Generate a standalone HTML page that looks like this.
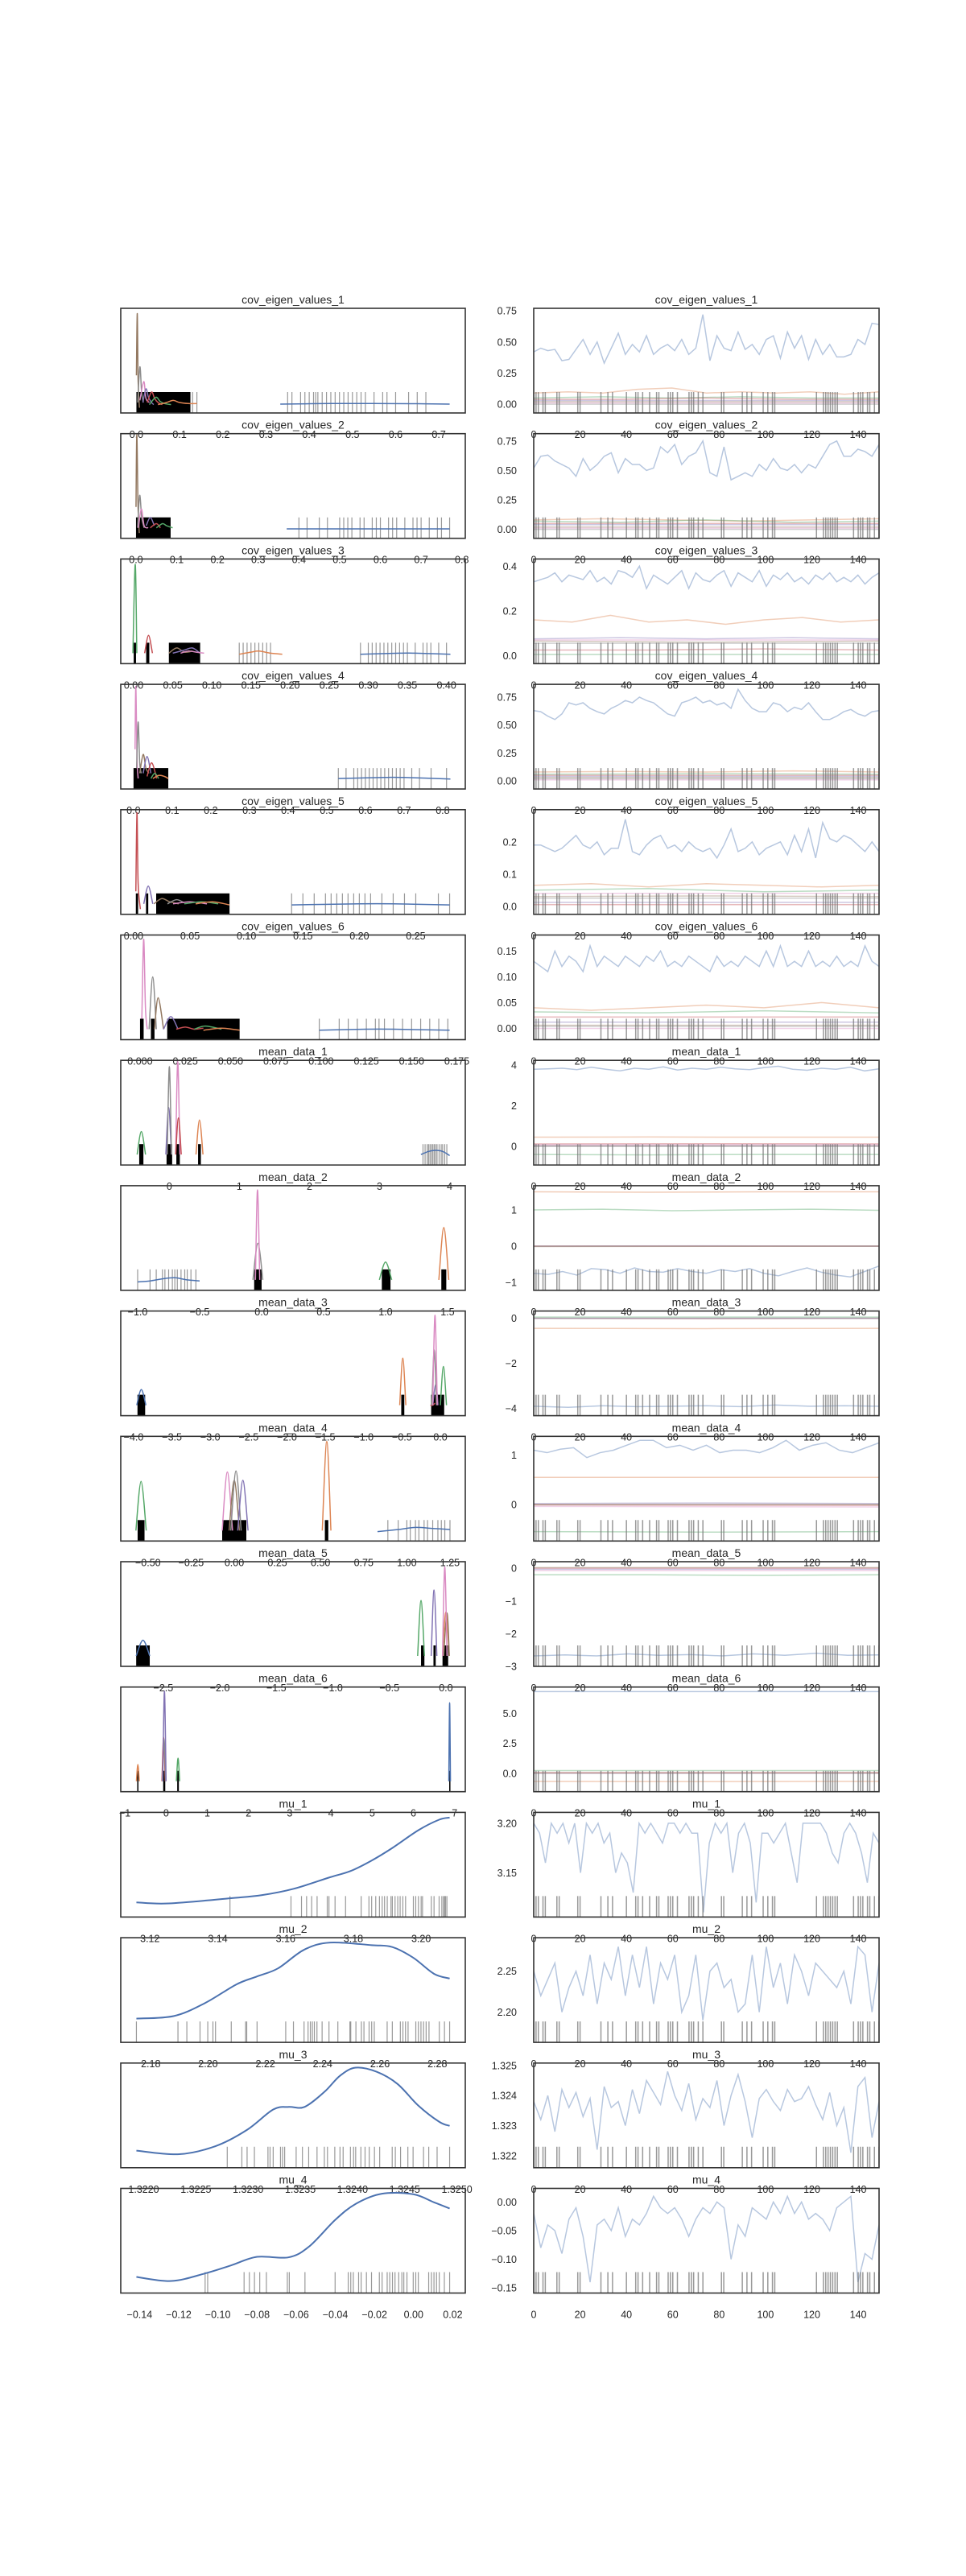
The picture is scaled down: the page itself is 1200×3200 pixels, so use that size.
<!DOCTYPE html>
<html><head><meta charset="utf-8"><title>Trace plot</title>
<style>
html,body{margin:0;padding:0;background:#fff;}
svg{display:block;font-family:"Liberation Sans",sans-serif;}
</style></head>
<body>
<svg id="chart" width="1200" height="3200" viewBox="0 0 1200 3200" xmlns="http://www.w3.org/2000/svg"></svg>
<script>
const B='#4C72B0',O='#DD8452',G='#55A868',R='#C44E52',P='#8172B3',Br='#937860',Pk='#DA8BC3',Gy='#8C8C8C';

const titles=['cov_eigen_values_1','cov_eigen_values_2','cov_eigen_values_3','cov_eigen_values_4','cov_eigen_values_5','cov_eigen_values_6','mean_data_1','mean_data_2','mean_data_3','mean_data_4','mean_data_5','mean_data_6','mu_1','mu_2','mu_3','mu_4'];

const kdeRange=[[0,0.725],[0.001,0.77],[0.0035,0.404],[0.0075,0.818],[0.0025,0.28],[-0.002,0.171],[-0.47,4.0],[-1.01,1.517],[-3.964,0.121],[-0.567,1.248],[-2.738,0.033],[-0.72,6.88],[3.116,3.2084],[2.175,2.2843],[1.32193,1.32493],[-0.1416,0.0184]];

const kdeTickLabels=[
['0.0','0.1','0.2','0.3','0.4','0.5','0.6','0.7'],
['0.0','0.1','0.2','0.3','0.4','0.5','0.6','0.7','0.8'],
['0.00','0.05','0.10','0.15','0.20','0.25','0.30','0.35','0.40'],
['0.0','0.1','0.2','0.3','0.4','0.5','0.6','0.7','0.8'],
['0.00','0.05','0.10','0.15','0.20','0.25'],
['0.000','0.025','0.050','0.075','0.100','0.125','0.150','0.175'],
['0','1','2','3','4'],
['−1.0','−0.5','0.0','0.5','1.0','1.5'],
['−4.0','−3.5','−3.0','−2.5','−2.0','−1.5','−1.0','−0.5','0.0'],
['−0.50','−0.25','0.00','0.25','0.50','0.75','1.00','1.25'],
['−2.5','−2.0','−1.5','−1.0','−0.5','0.0'],
['−1','0','1','2','3','4','5','6','7'],
['3.12','3.14','3.16','3.18','3.20'],
['2.18','2.20','2.22','2.24','2.26','2.28'],
['1.3220','1.3225','1.3230','1.3235','1.3240','1.3245','1.3250'],
['−0.14','−0.12','−0.10','−0.08','−0.06','−0.04','−0.02','0.00','0.02']];

const kdeSeries=[
[[Br,[0,0.002,0.004,0.007],[0.36,0.95,0.3,0.05]],[Gy,[0.003,0.008,0.012,0.016],[0.1,0.44,0.2,0.1]],[Pk,[0.008,0.017,0.022,0.03],[0.12,0.30,0.14,0.1]],[P,[0.015,0.022,0.028,0.035,0.04],[0.1,0.23,0.15,0.1,0.08]],[R,[0.025,0.035,0.042,0.05,0.06],[0.1,0.2,0.14,0.1,0.08]],[G,[0.03,0.045,0.055,0.065,0.08],[0.08,0.15,0.11,0.09,0.08]],[O,[0.05,0.07,0.085,0.1,0.12,0.14],[0.08,0.1,0.12,0.1,0.09,0.09]],[B,[0.333,0.45,0.55,0.65,0.725],[0.085,0.09,0.09,0.088,0.085]]],
[[Br,[0,0.002,0.005,0.008],[0.3,0.99,0.3,0.05]],[Gy,[0.004,0.009,0.014,0.02],[0.1,0.41,0.2,0.1]],[Pk,[0.006,0.013,0.02,0.03],[0.1,0.28,0.12,0.1]],[P,[0.025,0.035,0.045],[0.12,0.2,0.12]],[R,[0.035,0.05,0.06],[0.1,0.14,0.1]],[G,[0.05,0.065,0.075,0.09],[0.1,0.14,0.12,0.1]],[B,[0.37,0.5,0.6,0.77],[0.09,0.09,0.09,0.09]]],
[[G,[-0.001,0.002,0.004],[0.1,0.95,0.1]],[R,[0.014,0.019,0.024],[0.1,0.27,0.1]],[Br,[0.045,0.055,0.065,0.075],[0.1,0.15,0.11,0.12]],[P,[0.05,0.065,0.075,0.085],[0.1,0.13,0.15,0.1]],[Pk,[0.06,0.07,0.08,0.09],[0.1,0.12,0.11,0.1]],[O,[0.135,0.15,0.16,0.175,0.19],[0.09,0.11,0.12,0.1,0.09]],[B,[0.29,0.34,0.36,0.405],[0.09,0.1,0.1,0.09]]],
[[Pk,[0.004,0.006,0.009,0.012],[0.38,0.98,0.3,0.1]],[Gy,[0.008,0.012,0.016,0.02],[0.2,0.64,0.25,0.15]],[Br,[0.016,0.025,0.032,0.04],[0.15,0.33,0.2,0.15]],[P,[0.025,0.035,0.045],[0.15,0.31,0.15]],[R,[0.035,0.047,0.06],[0.12,0.25,0.1]],[G,[0.045,0.055,0.065],[0.1,0.15,0.1]],[O,[0.05,0.065,0.08,0.09],[0.1,0.13,0.12,0.1]],[B,[0.53,0.65,0.7,0.82],[0.1,0.11,0.11,0.095]]],
[[R,[0.002,0.003,0.004,0.006],[0.22,0.97,0.3,0.05]],[P,[0.009,0.013,0.017],[0.1,0.27,0.1]],[Br,[0.018,0.025,0.032,0.04],[0.1,0.15,0.12,0.1]],[Gy,[0.03,0.038,0.045],[0.1,0.14,0.11]],[Pk,[0.035,0.05,0.065],[0.1,0.12,0.1]],[G,[0.045,0.06,0.075],[0.1,0.12,0.1]],[O,[0.055,0.07,0.085],[0.1,0.12,0.09]],[B,[0.14,0.2,0.23,0.28],[0.09,0.1,0.1,0.09]]],
[[Pk,[0.001,0.002,0.003,0.004],[0.2,0.96,0.3,0.1]],[Gy,[0.005,0.007,0.009],[0.1,0.6,0.1]],[Br,[0.008,0.01,0.013],[0.1,0.4,0.1]],[P,[0.013,0.017,0.021],[0.1,0.22,0.1]],[R,[0.02,0.025,0.03,0.035],[0.1,0.12,0.1,0.11]],[G,[0.03,0.036,0.045],[0.1,0.13,0.1]],[O,[0.035,0.045,0.055],[0.09,0.11,0.09]],[B,[0.099,0.125,0.14,0.171],[0.09,0.1,0.1,0.09]]],
[[G,[-0.46,-0.4,-0.34],[0.1,0.32,0.1]],[P,[-0.05,-0.01,0.03],[0.1,0.55,0.1]],[Gy,[-0.03,0.0,0.03],[0.1,0.94,0.1]],[Pk,[0.09,0.12,0.15],[0.1,0.99,0.1]],[R,[0.09,0.13,0.17],[0.1,0.45,0.1]],[O,[0.38,0.43,0.48],[0.1,0.43,0.1]],[B,[3.59,3.7,3.8,3.9,4.0],[0.1,0.13,0.14,0.13,0.09]]],
[[B,[-1.0,-0.9,-0.8,-0.7,-0.6,-0.5],[0.08,0.09,0.11,0.12,0.1,0.09]],[Gy,[-0.07,-0.03,0.01],[0.1,0.45,0.1]],[Pk,[-0.05,-0.033,-0.015],[0.1,0.96,0.1]],[G,[0.95,1.0,1.05],[0.1,0.27,0.1]],[O,[1.43,1.47,1.51],[0.1,0.6,0.1]]],
[[B,[-3.96,-3.9,-3.84],[0.1,0.25,0.1]],[O,[-0.53,-0.49,-0.45],[0.1,0.55,0.1]],[R,[-0.13,-0.1,-0.07],[0.1,0.1,0.12]],[P,[-0.1,-0.06,-0.03],[0.1,0.3,0.1]],[Gy,[-0.11,-0.08,-0.05],[0.1,0.63,0.1]],[Pk,[-0.1,-0.07,-0.04],[0.1,0.96,0.1]],[G,[0.0,0.04,0.08],[0.1,0.47,0.1]]],
[[G,[-0.57,-0.54,-0.51],[0.1,0.57,0.1]],[Pk,[-0.07,-0.04,-0.01],[0.1,0.66,0.1]],[Br,[-0.03,0.0,0.03],[0.1,0.58,0.1]],[Gy,[-0.02,0.01,0.04],[0.1,0.67,0.1]],[P,[0.02,0.05,0.08],[0.1,0.58,0.1]],[O,[0.51,0.536,0.56],[0.1,0.95,0.1]],[B,[0.83,0.95,1.05,1.15,1.25],[0.09,0.11,0.13,0.12,0.11]]],
[[B,[-2.74,-2.68,-2.62],[0.1,0.25,0.1]],[G,[-0.25,-0.22,-0.19],[0.1,0.63,0.1]],[P,[-0.13,-0.105,-0.08],[0.1,0.73,0.1]],[O,[-0.03,0.0,0.03],[0.1,0.52,0.1]],[Br,[-0.02,0.01,0.03],[0.1,0.51,0.1]],[Pk,[-0.03,-0.01,0.01],[0.1,0.95,0.1]]],
[[O,[-0.72,-0.685,-0.65],[0.1,0.26,0.1]],[R,[-0.1,-0.06,-0.02],[0.1,0.52,0.1]],[Gy,[-0.09,-0.05,-0.01],[0.1,0.5,0.1]],[P,[-0.08,-0.04,0.0],[0.1,0.96,0.1]],[G,[0.25,0.29,0.33],[0.1,0.32,0.1]],[B,[6.86,6.88,6.9],[0.1,0.85,0.1]]],
[[B,[3.116,3.1255,3.1439,3.1531,3.1624,3.1731,3.1792,3.1854,3.1915,3.1992,3.2053,3.2084],[0.14,0.13,0.18,0.21,0.27,0.38,0.44,0.54,0.66,0.83,0.93,0.95]]],
[[B,[2.175,2.1881,2.1989,2.2099,2.2171,2.2244,2.2335,2.2426,2.2571,2.2643,2.2716,2.2788,2.2843],[0.227,0.252,0.375,0.554,0.630,0.707,0.885,0.954,0.929,0.911,0.809,0.656,0.610]]],
[[B,[1.32193,1.32234,1.32269,1.32299,1.32324,1.32339,1.32354,1.32373,1.32388,1.32403,1.32423,1.32443,1.32463,1.32483,1.32493],[0.163,0.129,0.207,0.362,0.556,0.581,0.581,0.724,0.879,0.956,0.917,0.801,0.594,0.439,0.400]]],
[[B,[-0.1416,-0.1238,-0.1066,-0.0933,-0.0800,-0.0640,-0.0534,-0.0400,-0.0294,-0.0162,-0.0002,0.0104,0.0184],[0.154,0.115,0.187,0.264,0.346,0.341,0.444,0.700,0.854,0.949,0.944,0.867,0.808]]]];

const kdeRugBlocks=[
[[0,0.125]],[[0,0.085]],[[0,0.003],[0.016,0.02],[0.045,0.085]],[[0,0.09]],[[0.002,0.004],[0.011,0.013],[0.02,0.085]],[[0,0.002],[0.006,0.008],[0.015,0.055]],
[[-0.43,-0.37],[-0.04,0.04],[0.1,0.15],[0.41,0.45]],[[-0.06,0.0],[0.97,1.04],[1.45,1.49]],[[-3.95,-3.85],[-0.51,-0.47],[-0.12,0.05]],[[-0.56,-0.52],[-0.07,0.07],[0.525,0.545]],[[-2.74,-2.62],[-0.22,-0.19],[-0.11,-0.09],[-0.03,0.02]],[[-0.7,-0.67],[-0.07,-0.02],[0.27,0.31],[6.87,6.89]],
[],[],[],[]];

const kdeRug=[
[0.13,0.14,0.35,0.36,0.38,0.39,0.40,0.41,0.415,0.42,0.43,0.44,0.45,0.46,0.47,0.48,0.49,0.50,0.51,0.52,0.53,0.55,0.57,0.58,0.60,0.63,0.65,0.67],
[0.40,0.42,0.45,0.47,0.50,0.51,0.52,0.53,0.55,0.56,0.58,0.59,0.60,0.62,0.63,0.64,0.66,0.68,0.69,0.70,0.72,0.74,0.75,0.77],
[0.135,0.14,0.145,0.15,0.155,0.16,0.165,0.17,0.175,0.29,0.30,0.305,0.31,0.315,0.32,0.325,0.33,0.335,0.34,0.345,0.35,0.36,0.37,0.375,0.38,0.39,0.40],
[0.53,0.55,0.57,0.58,0.59,0.60,0.61,0.62,0.63,0.64,0.65,0.66,0.67,0.68,0.69,0.70,0.72,0.74,0.77,0.81],
[0.14,0.15,0.16,0.17,0.175,0.18,0.185,0.19,0.195,0.2,0.205,0.21,0.22,0.23,0.24,0.25,0.27,0.28],
[0.099,0.11,0.115,0.12,0.125,0.13,0.132,0.135,0.14,0.145,0.15,0.155,0.16,0.165,0.17],
[3.62,3.65,3.68,3.7,3.72,3.74,3.76,3.78,3.8,3.82,3.85,3.88,3.9,3.93,3.96],
[-1.0,-0.9,-0.85,-0.8,-0.78,-0.75,-0.72,-0.7,-0.68,-0.65,-0.62,-0.6,-0.57,-0.53],
[],
[0.89,0.95,1.0,1.02,1.05,1.07,1.1,1.12,1.15,1.18,1.2,1.22,1.25],
[],[],
[3.1436,3.1616,3.1647,3.1662,3.1677,3.1693,3.1723,3.1728,3.1746,3.1777,3.1823,3.1846,3.1854,3.1866,3.1877,3.1885,3.1892,3.19,3.1911,3.1915,3.1923,3.1931,3.1938,3.1946,3.1954,3.1977,3.1984,3.1992,3.2,3.2004,3.203,3.2038,3.2053,3.2061,3.2066,3.2069,3.2072,3.2076],
[2.175,2.1895,2.1926,2.1972,2.1999,2.2017,2.2026,2.2081,2.2131,2.2135,2.2171,2.2271,2.2298,2.2335,2.2349,2.2357,2.2364,2.2371,2.238,2.2398,2.2422,2.2453,2.2495,2.2498,2.2516,2.2535,2.2544,2.2562,2.2571,2.258,2.2625,2.2643,2.2671,2.268,2.2689,2.2698,2.2725,2.2734,2.2743,2.2752,2.2761,2.2771,2.2807,2.2825,2.2843],
[1.3228,1.32294,1.32299,1.32306,1.32319,1.32321,1.32324,1.32331,1.32333,1.32335,1.32346,1.32352,1.32358,1.32366,1.32373,1.32376,1.32383,1.32388,1.32391,1.32398,1.32401,1.32403,1.32408,1.32412,1.32416,1.32421,1.32426,1.32438,1.32441,1.32446,1.32453,1.32458,1.32468,1.32473,1.32481,1.32493],
[-0.1065,-0.1052,-0.0866,-0.0839,-0.0813,-0.0786,-0.0752,-0.0645,-0.0635,-0.0555,-0.0401,-0.0334,-0.0321,-0.0308,-0.0281,-0.0268,-0.0241,-0.0215,-0.0175,-0.0161,-0.0135,-0.0122,-0.0108,-0.0095,-0.0076,-0.006,-0.005,-0.0034,-0.0002,0.0011,0.0024,0.0077,0.0091,0.0104,0.0117,0.0131,0.0157,0.0184]];

const traceYDomain=[[-0.07,0.77],[-0.076,0.812],[-0.036,0.432],[-0.072,0.865],[-0.025,0.3],[-0.0219,0.181],[-0.92,4.24],[-1.22,1.67],[-4.32,0.32],[-0.74,1.38],[-3.0,0.2],[-1.55,7.23],[3.1053,3.211],[2.163,2.291],[1.3216,1.32508],[-0.159,0.0238]];

const traceYTickLabels=[
['0.00','0.25','0.50','0.75'],['0.00','0.25','0.50','0.75'],['0.0','0.2','0.4'],['0.00','0.25','0.50','0.75'],['0.0','0.1','0.2'],['0.00','0.05','0.10','0.15'],
['0','2','4'],['−1','0','1'],['−4','−2','0'],['0','1'],['−3','−2','−1','0'],['0.0','2.5','5.0'],
['3.15','3.20'],['2.20','2.25'],['1.322','1.323','1.324','1.325'],['−0.15','−0.10','−0.05','0.00']];

const iterTicks=[0,20,40,60,80,100,120,140];
const divergences=[0,1,2,4,5,10,11,19,20,29,32,34,40,44,45,47,50,53,54,58,59,60,62,67,68,69,71,73,81,82,90,92,94,99,101,103,104,122,125,126,127,128,129,130,131,138,140,141,142,144,145,147,149];

const traceSeries=[
[[O,[0.09,0.10,0.09,0.12,0.13,0.09,0.10,0.09,0.10,0.08,0.10]],[G,[0.05,0.06,0.05,0.06,0.05,0.05]],[R,[0.04,0.04,0.05,0.04,0.04]],[P,[0.03,0.03,0.03,0.03]],[Br,[0.02,0.02,0.02]],[Pk,[0.01,0.01]],[Gy,[0.0,0.0]],
 [B,[0.42,0.45,0.43,0.44,0.35,0.36,0.44,0.52,0.40,0.50,0.33,0.45,0.57,0.40,0.48,0.42,0.55,0.40,0.45,0.48,0.43,0.52,0.40,0.45,0.72,0.35,0.55,0.45,0.43,0.58,0.44,0.48,0.40,0.52,0.55,0.37,0.58,0.45,0.55,0.36,0.52,0.40,0.48,0.38,0.38,0.40,0.52,0.48,0.65,0.64]]],
[[O,[0.08,0.09,0.08,0.07,0.08,0.09]],[G,[0.07,0.06,0.08,0.06,0.07]],[R,[0.05,0.05,0.05]],[P,[0.04,0.04]],[Br,[0.02,0.02]],[Pk,[0.01,0.01]],[Gy,[0.0,0.0]],
 [B,[0.52,0.62,0.63,0.58,0.55,0.52,0.45,0.60,0.50,0.55,0.62,0.65,0.48,0.60,0.55,0.55,0.50,0.52,0.70,0.65,0.72,0.55,0.62,0.65,0.75,0.48,0.45,0.70,0.42,0.45,0.48,0.45,0.55,0.50,0.60,0.52,0.50,0.55,0.48,0.55,0.52,0.62,0.72,0.75,0.62,0.62,0.68,0.66,0.62,0.72]]],
[[O,[0.16,0.15,0.18,0.15,0.16,0.14,0.16,0.17,0.15,0.16]],[P,[0.075,0.08,0.075,0.08,0.075]],[Pk,[0.07,0.07]],[Br,[0.065,0.06,0.065]],[Gy,[0.055,0.055]],[R,[0.025,0.025,0.03,0.025]],[G,[0.005,0.005]],
 [B,[0.33,0.34,0.35,0.37,0.33,0.36,0.35,0.34,0.38,0.33,0.35,0.32,0.38,0.37,0.35,0.40,0.30,0.36,0.34,0.32,0.35,0.38,0.30,0.37,0.34,0.33,0.36,0.38,0.31,0.37,0.35,0.33,0.38,0.31,0.36,0.34,0.37,0.33,0.35,0.32,0.36,0.34,0.37,0.33,0.35,0.33,0.36,0.32,0.35,0.37]]],
[[O,[0.08,0.085,0.08,0.09,0.08]],[G,[0.06,0.065,0.06]],[R,[0.05,0.05]],[P,[0.04,0.04]],[Br,[0.03,0.03]],[Gy,[0.02,0.02]],[Pk,[0.01,0.01]],
 [B,[0.63,0.62,0.58,0.55,0.60,0.70,0.68,0.70,0.65,0.62,0.60,0.65,0.68,0.72,0.70,0.75,0.72,0.70,0.65,0.60,0.58,0.70,0.72,0.75,0.70,0.72,0.68,0.70,0.65,0.82,0.72,0.65,0.62,0.62,0.70,0.68,0.62,0.66,0.64,0.70,0.62,0.55,0.55,0.58,0.62,0.64,0.60,0.58,0.62,0.63]]],
[[O,[0.065,0.07,0.06,0.07,0.065,0.06,0.065]],[G,[0.05,0.055,0.045,0.05]],[Pk,[0.04,0.04]],[Br,[0.03,0.032,0.03]],[Gy,[0.025,0.025]],[P,[0.012,0.012]],[R,[0.005,0.005]],
 [B,[0.19,0.19,0.18,0.17,0.18,0.20,0.22,0.19,0.18,0.20,0.16,0.18,0.18,0.27,0.17,0.16,0.19,0.21,0.22,0.18,0.19,0.17,0.20,0.18,0.17,0.18,0.15,0.19,0.24,0.17,0.18,0.20,0.16,0.18,0.19,0.20,0.16,0.22,0.17,0.24,0.15,0.26,0.21,0.20,0.22,0.21,0.19,0.17,0.20,0.17]]],
[[O,[0.04,0.035,0.04,0.045,0.04,0.05,0.04]],[G,[0.032,0.03,0.034,0.03]],[R,[0.022,0.022]],[P,[0.012,0.012]],[Br,[0.006,0.006]],[Gy,[0.004,0.004]],[Pk,[0.0,0.0]],
 [B,[0.13,0.12,0.11,0.15,0.12,0.14,0.13,0.11,0.16,0.12,0.14,0.13,0.12,0.14,0.13,0.12,0.14,0.13,0.15,0.12,0.13,0.12,0.14,0.13,0.12,0.11,0.14,0.12,0.13,0.12,0.14,0.13,0.12,0.15,0.12,0.16,0.12,0.13,0.12,0.15,0.12,0.13,0.12,0.14,0.12,0.13,0.12,0.16,0.13,0.12]]],
[[O,[0.45,0.46,0.45,0.45]],[R,[0.12,0.13,0.12]],[Pk,[0.08,0.08]],[P,[0.02,0.02]],[Br,[0.02,0.02]],[Gy,[0.0,0.0]],[G,[-0.4,-0.42,-0.4,-0.4]],
 [B,[3.8,3.82,3.85,3.78,3.9,3.8,3.72,3.85,3.8,3.92,3.76,3.85,3.8,3.9,3.82,3.78,3.88,3.95,3.8,3.75,3.85,3.8,3.9,3.72,3.82]]],
[[O,[1.5,1.49,1.5,1.5]],[G,[1.0,1.02,0.98,1.0,1.02,0.99]],[P,[0.0,0.01,0.0]],[R,[0.0,0.0]],[Br,[-0.01,0.0]],[Gy,[0.0,0.0]],
 [B,[-0.75,-0.78,-0.7,-0.8,-0.62,-0.65,-0.75,-0.6,-0.7,-0.72,-0.62,-0.7,-0.75,-0.65,-0.7,-0.62,-0.75,-0.82,-0.7,-0.6,-0.72,-0.8,-0.85,-0.7,-0.55]]],
[[G,[0.05,0.05]],[R,[0.0,-0.02,0.0]],[P,[0.0,0.0]],[Gy,[0.0,0.0]],[O,[-0.45,-0.46,-0.45]],
 [B,[-3.9,-3.95,-3.88,-3.92,-3.9,-3.88,-3.92,-3.85,-3.9,-3.88,-3.9]]],
[[O,[0.55,0.55]],[P,[0.02,0.03,0.02]],[Gy,[0.0,0.0]],[R,[-0.01,-0.02]],[Pk,[-0.04,-0.05]],[Br,[0.0,0.0]],[G,[-0.55,-0.56,-0.55]],
 [B,[1.1,1.05,1.12,1.15,0.95,1.05,1.1,1.2,1.3,1.3,1.15,1.2,1.1,1.2,1.05,1.1,1.1,1.05,1.15,1.3,1.1,1.2,1.25,1.1,1.05,1.15,1.25]]],
[[R,[0.0,0.0]],[Br,[0.02,0.02]],[Pk,[-0.07,-0.07]],[P,[-0.03,-0.03]],[G,[-0.2,-0.2,-0.22,-0.2]],
 [B,[-2.68,-2.65,-2.68,-2.62,-2.66,-2.64,-2.68,-2.62,-2.66,-2.6,-2.66,-2.65]]],
[[G,[0.22,0.22]],[P,[0.0,0.0]],[R,[0.05,0.05]],[Br,[0.02,0.02]],[O,[-0.68,-0.7,-0.68]],[B,[6.85,6.85]]],
[[B,[3.20,3.19,3.16,3.20,3.19,3.20,3.18,3.20,3.15,3.20,3.19,3.20,3.18,3.19,3.15,3.17,3.16,3.13,3.20,3.19,3.20,3.19,3.18,3.20,3.20,3.19,3.20,3.19,3.19,3.11,3.18,3.20,3.19,3.20,3.15,3.19,3.20,3.18,3.12,3.19,3.19,3.18,3.19,3.20,3.17,3.14,3.20,3.20,3.20,3.20,3.19,3.17,3.16,3.19,3.20,3.19,3.17,3.14,3.19,3.18]]],
[[B,[2.25,2.22,2.24,2.26,2.20,2.23,2.25,2.22,2.27,2.21,2.26,2.24,2.28,2.22,2.27,2.23,2.28,2.21,2.26,2.24,2.27,2.20,2.22,2.27,2.19,2.25,2.26,2.23,2.24,2.20,2.21,2.27,2.20,2.28,2.23,2.26,2.21,2.27,2.25,2.22,2.26,2.25,2.24,2.23,2.25,2.21,2.28,2.27,2.20,2.26]]],
[[B,[1.3238,1.3232,1.3240,1.3228,1.3242,1.3236,1.3241,1.3233,1.3239,1.3222,1.3243,1.3236,1.3238,1.3230,1.3242,1.3234,1.3245,1.3241,1.3237,1.3248,1.3240,1.3235,1.3244,1.3232,1.3239,1.3236,1.3245,1.3230,1.3240,1.3247,1.3238,1.3226,1.3239,1.3242,1.3238,1.3235,1.3242,1.3238,1.3239,1.3243,1.3237,1.3232,1.3241,1.3230,1.3236,1.3221,1.3243,1.3246,1.3226,1.3238]]],
[[B,[-0.02,-0.08,-0.04,-0.05,-0.09,-0.03,-0.01,-0.06,-0.14,-0.04,-0.03,-0.05,-0.01,-0.06,-0.03,-0.04,-0.02,0.01,-0.01,-0.02,-0.01,-0.03,-0.06,-0.03,-0.01,-0.02,0.00,-0.01,-0.10,-0.04,-0.06,-0.01,-0.02,-0.03,0.00,-0.02,0.01,-0.02,0.00,-0.03,-0.02,-0.03,-0.05,-0.01,0.00,0.01,-0.14,-0.09,-0.10,-0.04]]]];

const svg=document.getElementById('chart');
const NS='http://www.w3.org/2000/svg';
function mk(tag,attrs,parent){const e=document.createElementNS(NS,tag);for(const k in attrs)e.setAttribute(k,attrs[k]);(parent||svg).appendChild(e);return e;}
function num(s){return parseFloat(s.replace('−','-'));}
function smooth(pts){
  if(pts.length<3){return 'M'+pts.map(p=>p[0].toFixed(2)+','+p[1].toFixed(2)).join('L');}
  let d='M'+pts[0][0].toFixed(2)+','+pts[0][1].toFixed(2);
  for(let i=0;i<pts.length-1;i++){
    const p0=pts[i-1]||pts[i],p1=pts[i],p2=pts[i+1],p3=pts[i+2]||p2;
    const c1=[p1[0]+(p2[0]-p0[0])/6,p1[1]+(p2[1]-p0[1])/6];
    const c2=[p2[0]-(p3[0]-p1[0])/6,p2[1]-(p3[1]-p1[1])/6];
    d+='C'+c1[0].toFixed(2)+','+c1[1].toFixed(2)+' '+c2[0].toFixed(2)+','+c2[1].toFixed(2)+' '+p2[0].toFixed(2)+','+p2[1].toFixed(2);
  }
  return d;
}
const LX0=150,LX1=578,RX0=663,RX1=1092,TOP0=383,PITCH=155.7,H=130;
const defs=mk('defs',{});

for(let r=0;r<16;r++){
  const top=TOP0+r*PITCH, bot=top+H;
  const row=mk('g',{});
  
  
  const cl=mk('clipPath',{id:'cl'+r},defs);mk('rect',{x:LX0,y:top,width:LX1-LX0,height:H},cl);
  const cr=mk('clipPath',{id:'cr'+r},defs);mk('rect',{x:RX0,y:top,width:RX1-RX0,height:H},cr);

  // ---- left: KDE ----
  const a=kdeRange[r][0],b=kdeRange[r][1],w=b-a,lo=a-0.05*w,hi=b+0.05*w;
  const sx=x=>LX0+(x-lo)/(hi-lo)*(LX1-LX0);
  const sy=f=>bot-f*H;
  const lg=mk('g',{'clip-path':'url(#cl'+r+')'},row);
  
  
  for(const blk of kdeRugBlocks[r]){
    const rc=mk('rect',{x:sx(blk[0]),y:bot-0.2*H,width:Math.max(1.5,sx(blk[1])-sx(blk[0])),height:0.2*H,fill:'#000'},lg);
    
    
  }
  for(const v of kdeRug[r]){
    const ln=mk('line',{x1:sx(v),x2:sx(v),y1:bot,y2:bot-0.2*H,stroke:'#000','stroke-opacity':0.4,'stroke-width':1.2},lg);
    
    
  }
  for(const s of kdeSeries[r]){
    const pts=s[1].map((x,i)=>[sx(x),sy(s[2][i])]);
    const pa=mk('path',{d:smooth(pts),fill:'none',stroke:s[0],'stroke-width':r>=12?2:1.5},lg);
    
    
  }
  const lf=mk('rect',{x:LX0,y:top,width:LX1-LX0,height:H,fill:'none',stroke:'#333','stroke-width':1.6},row);
  
  
  for(const lab of kdeTickLabels[r]){
    const t=mk('text',{x:sx(num(lab)),y:bot+31,'text-anchor':'middle','font-size':12.5,fill:'#262626'},row);
    t.textContent=lab;
    
    
  }
  const lt=mk('text',{x:(LX0+LX1)/2,y:top-6,'text-anchor':'middle','font-size':14,fill:'#262626'},row);
  lt.textContent=titles[r];
  
  

  // ---- right: trace ----
  const yl=traceYDomain[r][0],yh=traceYDomain[r][1];
  const rx=i=>RX0+i/149*(RX1-RX0);
  const ry=v=>bot-(v-yl)/(yh-yl)*H;
  const rg=mk('g',{'clip-path':'url(#cr'+r+')'},row);
  
  
  for(const s of traceSeries[r]){
    const n=s[1].length;
    const pts=s[1].map((v,i)=>rx(i*149/(n-1)).toFixed(2)+','+ry(v).toFixed(2)).join(' ');
    const pl=mk('polyline',{points:pts,fill:'none',stroke:s[0],'stroke-opacity':0.4,'stroke-width':1.5},rg);
    
    
  }
  for(const d of divergences){
    const ln=mk('line',{x1:rx(d),x2:rx(d),y1:bot,y2:bot-0.2*H,stroke:'#777','stroke-opacity':0.75,'stroke-width':1.5},rg);
    
    
  }
  const rf=mk('rect',{x:RX0,y:top,width:RX1-RX0,height:H,fill:'none',stroke:'#333','stroke-width':1.6},row);
  
  
  for(const lab of traceYTickLabels[r]){
    const t=mk('text',{x:642,y:ry(num(lab))+4.5,'text-anchor':'end','font-size':12.5,fill:'#262626'},row);
    t.textContent=lab;
    
    
  }
  for(const it of iterTicks){
    const t=mk('text',{x:rx(it),y:bot+31,'text-anchor':'middle','font-size':12.5,fill:'#262626'},row);
    t.textContent=String(it);
    
    
  }
  const rt=mk('text',{x:(RX0+RX1)/2,y:top-6,'text-anchor':'middle','font-size':14,fill:'#262626'},row);
  rt.textContent=titles[r];
  
  
}
</script>
</body></html>
